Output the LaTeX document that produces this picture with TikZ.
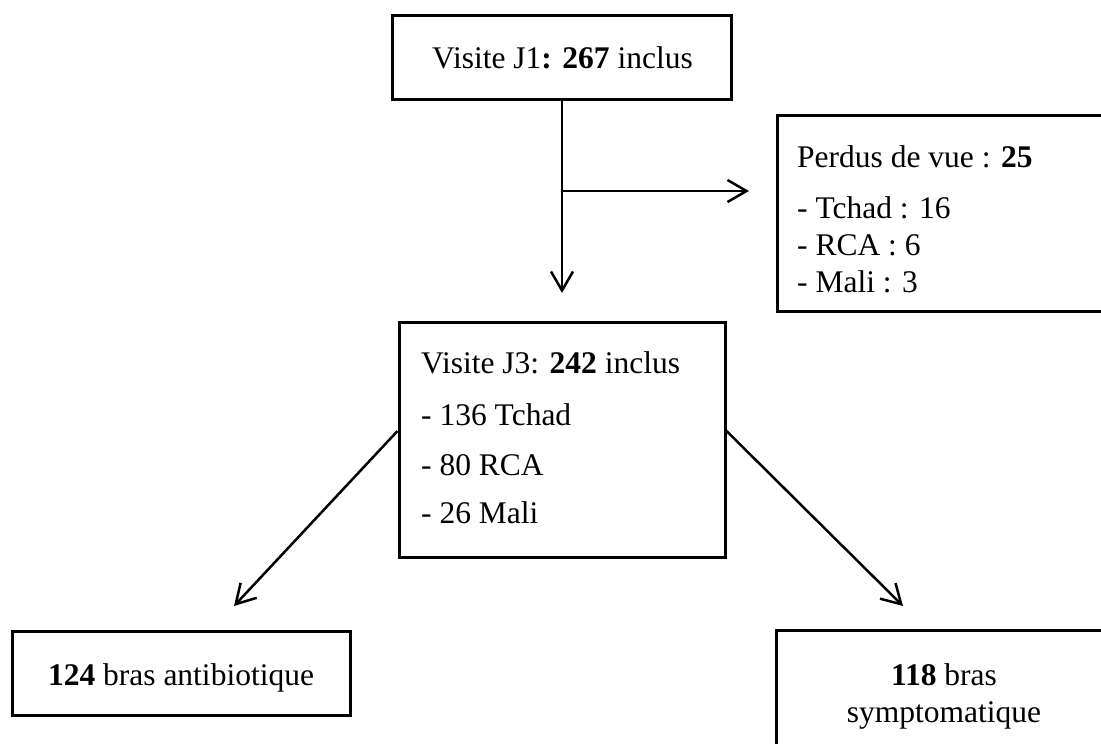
\documentclass[tikz,border=0pt]{standalone}
\usepackage{fontspec}
\setmainfont{Liberation Serif}
\usetikzlibrary{arrows.meta}
\begin{document}
\begin{tikzpicture}[x=1pt,y=-1pt,
  box/.style={draw, line width=3pt, rectangle, inner sep=0pt},
  lbl/.style={inner sep=0pt, font=\fontsize{31.5}{37}\selectfont},
  arr/.style={line width=2.5pt, -{Straight Barb[length=19pt,width=22pt,line width=2.5pt]}}
]
\useasboundingbox (0,0) rectangle (1101,744);
\clip (0,0) rectangle (1101,744);
% boxes
\node[box, minimum width=339pt, minimum height=84pt] (j1) at (562,57.5) {};
\node[box, minimum width=326pt, minimum height=235pt] (j3) at (562,439.5) {};
\node[box, minimum width=343pt, minimum height=196pt] (lost) at (948.5,213) {};
\node[box, minimum width=338pt, minimum height=84pt] (ab) at (181,673) {};
\node[box, minimum width=336pt, minimum height=130pt] (sy) at (944,695) {};
% texts
\node[lbl, anchor=base west] (t1) at (432,68) {Visite J1\textbf{:} \textbf{267} inclus};
\node[lbl, anchor=base west] (l1) at (797,167) {Perdus de vue : \textbf{25}};
\node[lbl, anchor=base west] (l2) at (797,218) {- Tchad : 16};
\node[lbl, anchor=base west] (l3) at (797,255) {- RCA : 6};
\node[lbl, anchor=base west] (l4) at (797,292) {- Mali : 3};
\node[lbl, anchor=base west] (m1) at (421,373) {Visite J3: \textbf{242} inclus};
\node[lbl, anchor=base west] (m2) at (421,425) {- 136 Tchad};
\node[lbl, anchor=base west] (m3) at (421,475) {- 80 RCA};
\node[lbl, anchor=base west] (m4) at (421,523) {- 26 Mali};
\node[lbl, anchor=base] (a1) at (181,685) {\textbf{124} bras antibiotique};
\node[lbl, anchor=base] (s1) at (944,685) {\textbf{118} bras};
\node[lbl, anchor=base] (s2) at (944,722) {symptomatique};
% connectors
\coordinate (tipD) at (562,293);
\coordinate (split) at (562,191);
\coordinate (tipR) at (749,191);
\coordinate (tipL) at (234,606);
\coordinate (tipRR) at (903,606);
\draw[arr] (j1.south) -- (tipD);
\draw[arr] (split) -- (tipR);
\draw[arr] ([yshift=8.5pt]j3.west) -- (tipL);
\draw[arr] ([yshift=8.5pt]j3.east) -- (tipRR);
\end{tikzpicture}
\end{document}
